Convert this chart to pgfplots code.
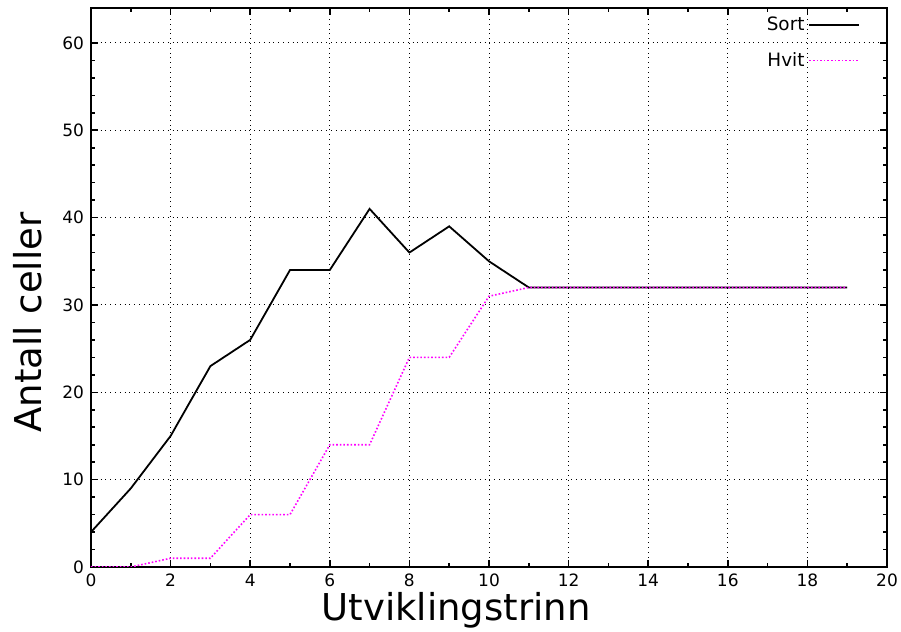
\documentclass[border=0pt]{standalone}
\usepackage{fontspec}
\setmainfont{DejaVu Sans}
\usepackage{pgfplots}
\pgfplotsset{compat=1.18}
\definecolor{hvit}{RGB}{255,0,255}
\begin{document}
\begin{tikzpicture}
\begin{axis}[
  name=ax,
  scale only axis,
  width=398pt, height=279.5pt,
  xmin=0, xmax=20, ymin=0, ymax=64,
  xtick={0,2,...,20}, ytick={0,10,...,60},
  minor x tick num=1, minor y tick num=4,
  tick align=inside, tick pos=both,
  major tick length=3.5pt, minor tick length=2pt,
  every tick/.style={black, line width=0.8pt},
  axis line style={line width=1pt},
  grid=major,
  major grid style={black, dotted, line width=0.5pt},
  /pgf/number format/assume math mode=true,
  ticklabel style={font=\fontsize{8.5}{10}\selectfont},
  xlabel={Utviklingstrinn}, ylabel={Antall celler},
  label style={font=\fontsize{18.5}{22}\selectfont},
  xlabel style={yshift=4pt, xshift=-16.5pt},
  ylabel style={yshift=3.5pt, xshift=-17.5pt},
  legend cell align=right,
  legend plot pos=right,
  legend style={at={(0.972,1.0)}, anchor=north east, draw=none, fill=none,
    font=\fontsize{9.2}{11}\selectfont, row sep=5.5pt, inner sep=2pt},
  legend image code/.code={\draw[#1] (0pt,0pt) -- (25pt,0pt);},
]
\addplot[black, line width=0.9pt] coordinates {
(0,4) (1,9) (2,15) (3,23) (4,26) (5,34) (6,34) (7,41) (8,36) (9,39) (10,35) (11,32)
(12,32) (13,32) (14,32) (15,32) (16,32) (17,32) (18,32) (19,32)};
\addlegendentry{Sort}
\addplot[hvit, densely dotted, line width=0.8pt] coordinates {
(0,0) (1,0) (2,1) (3,1) (4,6) (5,6) (6,14) (7,14) (8,24) (9,24) (10,31) (11,32)
(12,32) (13,32) (14,32) (15,32) (16,32) (17,32) (18,32) (19,32)};
\addlegendentry{Hvit}
\end{axis}
\pgfresetboundingbox
\path ([shift={(-45.5pt,-32.5pt)}]ax.south west) rectangle ([shift={(7pt,4pt)}]ax.north east);
\end{tikzpicture}
\end{document}
